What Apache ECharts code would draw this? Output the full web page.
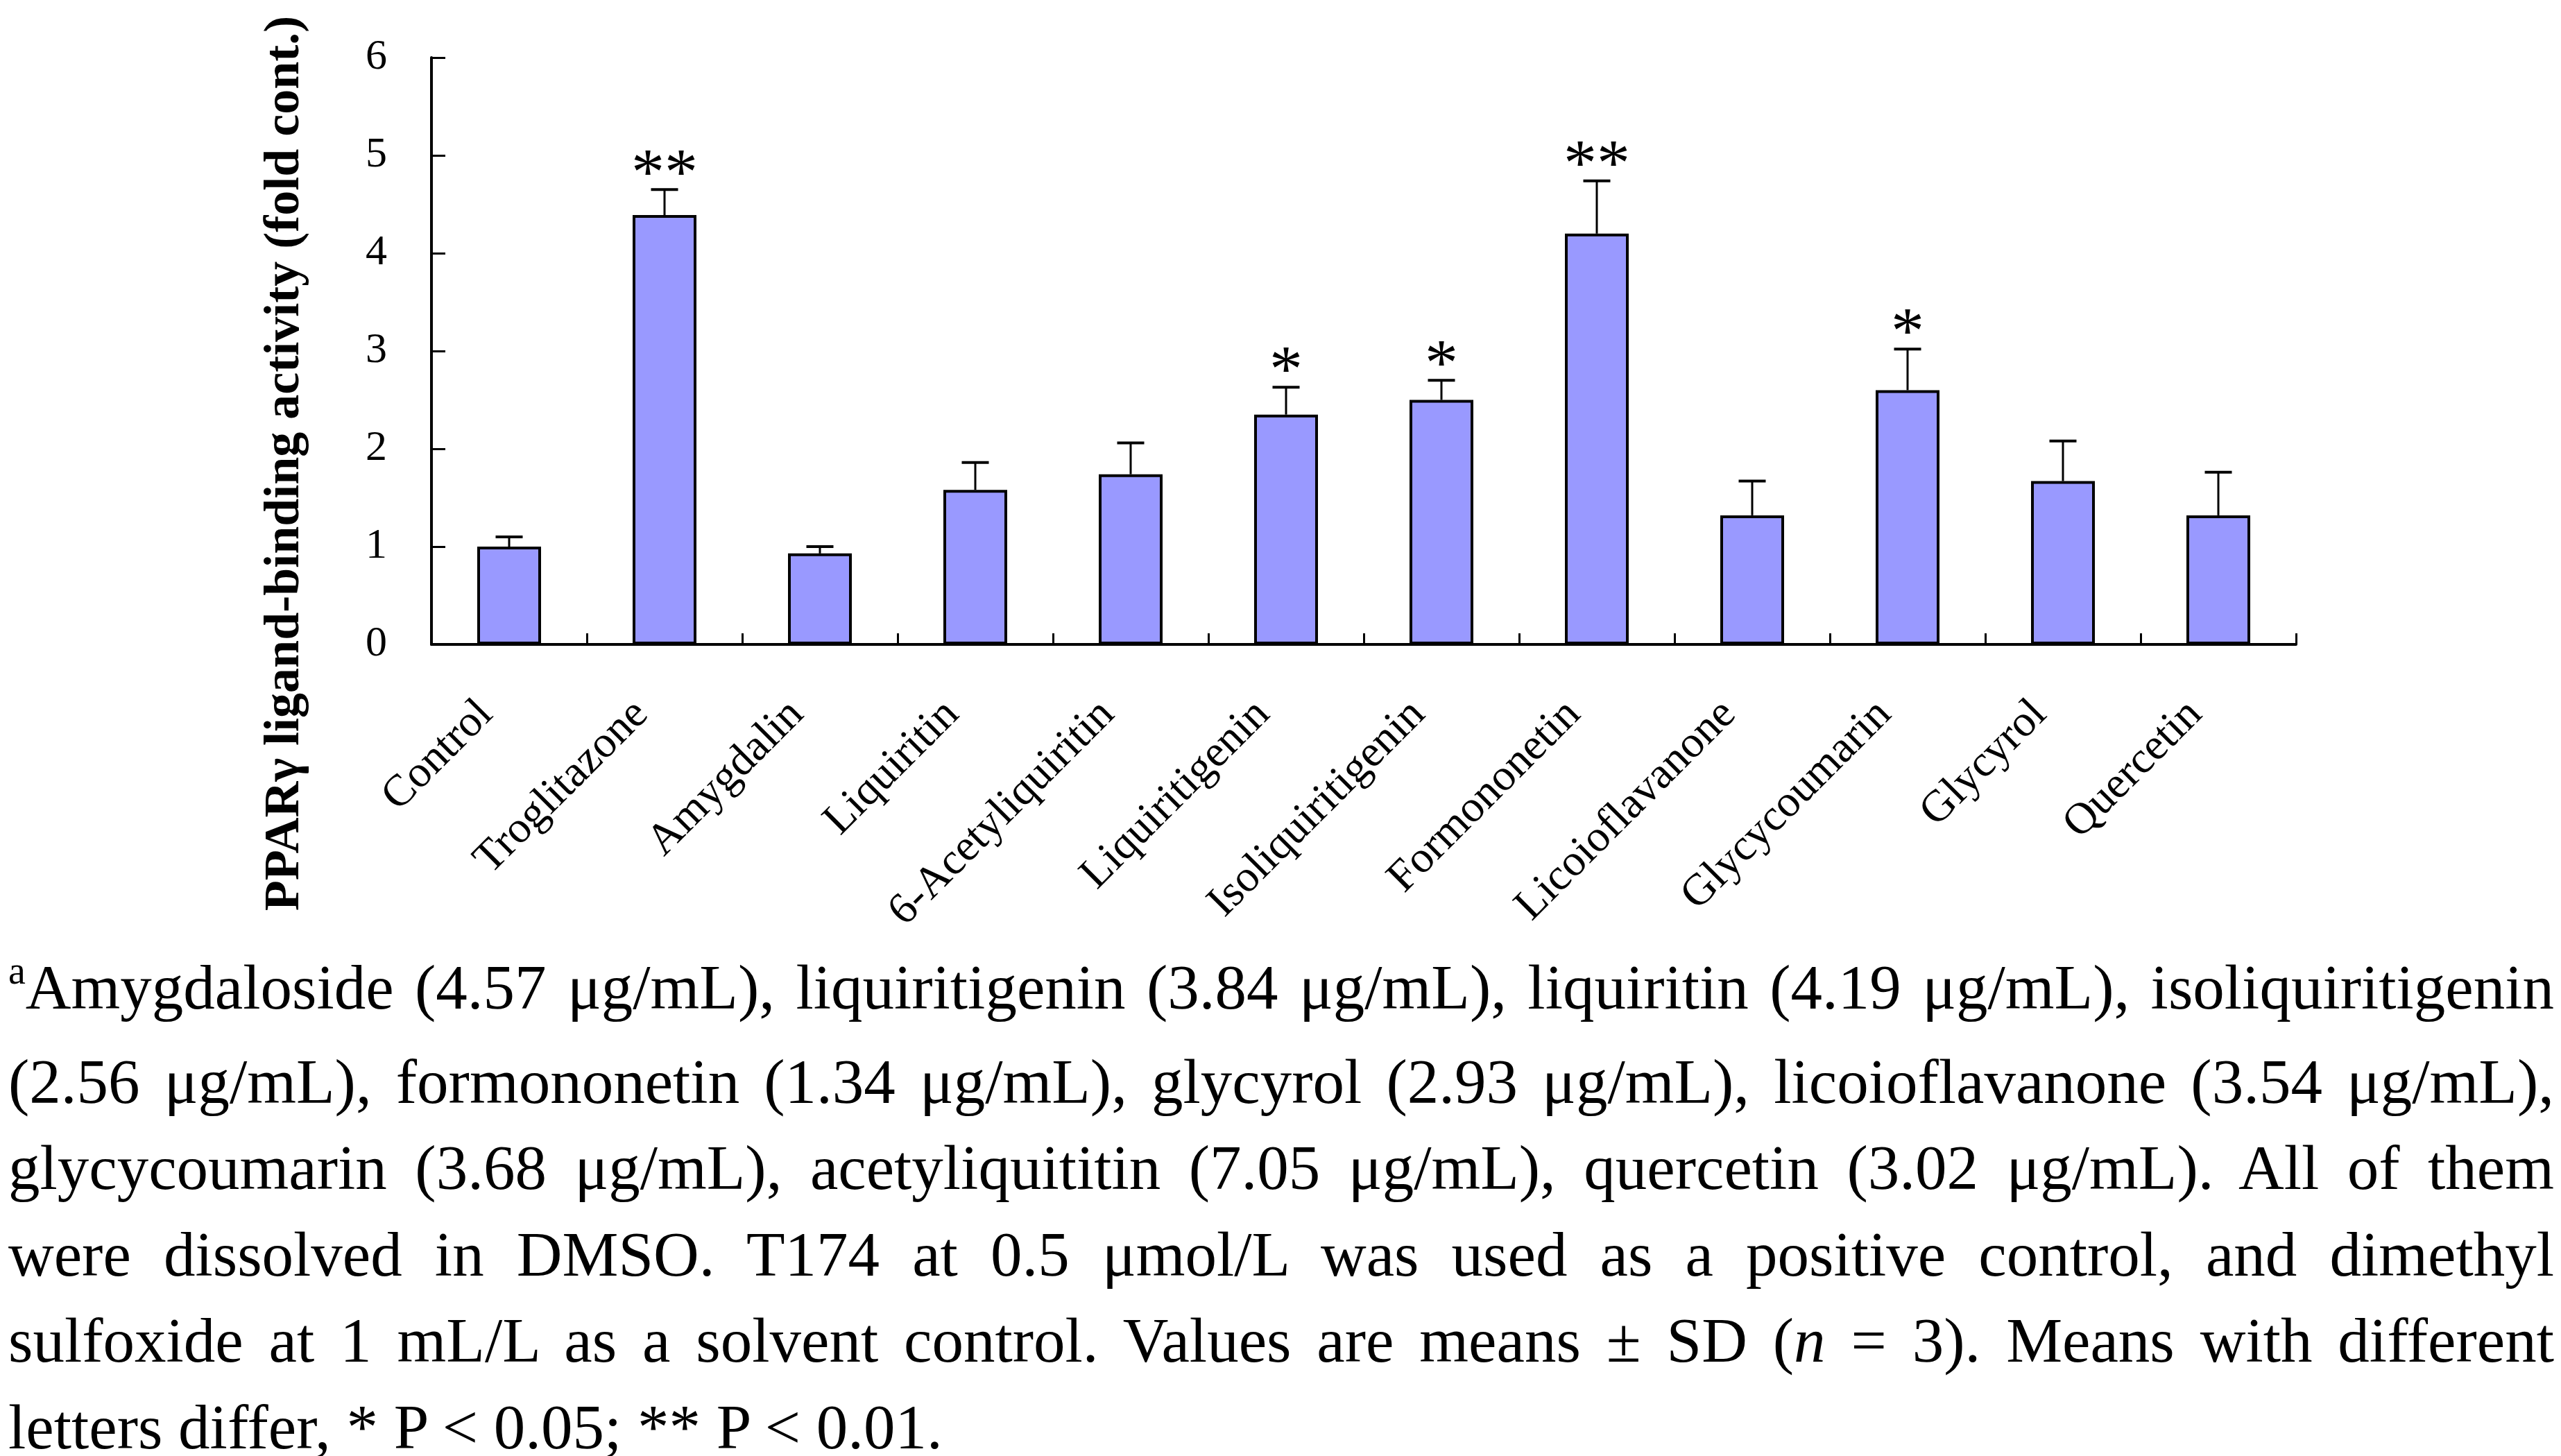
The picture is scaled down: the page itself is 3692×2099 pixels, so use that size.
<!DOCTYPE html>
<html>
<head>
<meta charset="utf-8">
<script src="https://cdn.jsdelivr.net/npm/echarts@6/dist/echarts.min.js"></script>
<style>
html,body{margin:0;padding:0;background:#fff;}
#chart{position:absolute;left:0;top:0;width:3692px;height:2099px;}
#caption{position:absolute;left:12px;top:1362px;width:3670px;font-family:"Liberation Serif","Times New Roman",serif;font-size:91px;line-height:124.6px;color:#000;}
#caption .ln{white-space:nowrap;text-align:justify;text-align-last:justify;}
#caption .last{text-align:left;text-align-last:left;}
#caption .sup{font-size:56px;position:relative;top:-36px;}
</style>
</head>
<body>
<div id="chart"></div>
<div id="caption">
<div class="ln"><span class="sup">a</span>Amygdaloside (4.57 μg/mL), liquiritigenin (3.84 μg/mL), liquiritin (4.19 μg/mL), isoliquiritigenin</div>
<div class="ln">(2.56 μg/mL), formononetin (1.34 μg/mL), glycyrol (2.93 μg/mL), licoioflavanone (3.54 μg/mL),</div>
<div class="ln">glycycoumarin (3.68 μg/mL), acetyliquititin (7.05 μg/mL), quercetin (3.02 μg/mL). All of them</div>
<div class="ln">were dissolved in DMSO. T174 at 0.5 μmol/L was used as a positive control, and dimethyl</div>
<div class="ln">sulfoxide at 1 mL/L as a solvent control. Values are means ± SD (<i>n</i> = 3). Means with different</div>
<div class="ln last">letters differ, * P &lt; 0.05; ** P &lt; 0.01.</div>
</div>
<script>
const categories = ['Control','Troglitazone','Amygdalin','Liquiritin','6-Acetyliquiritin','Liquiritigenin','Isoliquiritigenin','Formononetin','Licoioflavanone','Glycycoumarin','Glycyrol','Quercetin'];
const means = [1.00, 4.39, 0.93, 1.58, 1.74, 2.35, 2.50, 4.20, 1.32, 2.60, 1.67, 1.32];
const sd    = [0.10, 0.26, 0.07, 0.28, 0.32, 0.28, 0.20, 0.54, 0.35, 0.42, 0.41, 0.44];
const stars = ['', '**', '', '', '', '*', '*', '**', '', '*', '', ''];
const yTicks = [0, 1, 2, 3, 4, 5, 6];
const yTitle = 'PPARγ ligand-binding activity (fold cont.)';

const serif = '"Liberation Serif","Times New Roman",serif';
const chart = echarts.init(document.getElementById('chart'), null, {renderer:'canvas'});

const errData = categories.map((c, i) => [i, means[i], means[i] + sd[i]]);

chart.setOption({
  animation: false,
  backgroundColor: '#fff',
  grid: {left: 622, right: 382, top: 83, bottom: 1170, containLabel: false},
  xAxis: {
    type: 'category',
    data: categories,
    boundaryGap: true,
    axisLine: {lineStyle: {color: '#000', width: 4}},
    axisTick: {show: true, inside: true, length: 16, interval: 0, alignWithLabel: false, lineStyle: {color: '#000', width: 3}},
    axisLabel: {interval: 0, rotate: 45, margin: 58, padding: [0, 47, 0, 0], color: '#000', fontSize: 64, fontFamily: serif},
    splitLine: {show: false}
  },
  yAxis: {
    type: 'value',
    min: yTicks[0], max: yTicks[yTicks.length - 1], interval: 1,
    axisLine: {show: true, lineStyle: {color: '#000', width: 4}},
    axisTick: {show: true, inside: true, length: 20, lineStyle: {color: '#000', width: 3}},
    axisLabel: {margin: 64, color: '#000', fontSize: 62, fontFamily: serif},
    splitLine: {show: false}
  },
  graphic: [{
    type: 'text',
    x: 411, y: 668,
    rotation: Math.PI / 2,
    style: {text: yTitle, align: 'center', verticalAlign: 'middle', fontSize: 72, fontWeight: 'bold', fontFamily: serif, fill: '#000'}
  }],
  series: [{
    type: 'bar',
    data: means,
    barWidth: 92,
    itemStyle: {color: '#9999FF', borderColor: '#000', borderWidth: 4},
    z: 2
  }, {
    type: 'custom',
    data: errData,
    z: 3,
    renderItem: function (params, api) {
      const i = api.value(0);
      const base = api.coord([i, api.value(1)]);
      const top = api.coord([i, api.value(2)]);
      const half = 19.5;
      const children = [
        {type: 'line', shape: {x1: top[0], y1: base[1], x2: top[0], y2: top[1]}, style: {stroke: '#000', lineWidth: 3}},
        {type: 'line', shape: {x1: top[0] - half, y1: top[1], x2: top[0] + half, y2: top[1]}, style: {stroke: '#000', lineWidth: 4}}
      ];
      if (stars[i]) {
        children.push({type: 'text', style: {text: stars[i], x: top[0], y: top[1] - 19, align: 'center', verticalAlign: 'middle', fontSize: 96, fontFamily: serif, fill: '#000'}});
      }
      return {type: 'group', children: children};
    }
  }]
});
</script>
</body>
</html>
